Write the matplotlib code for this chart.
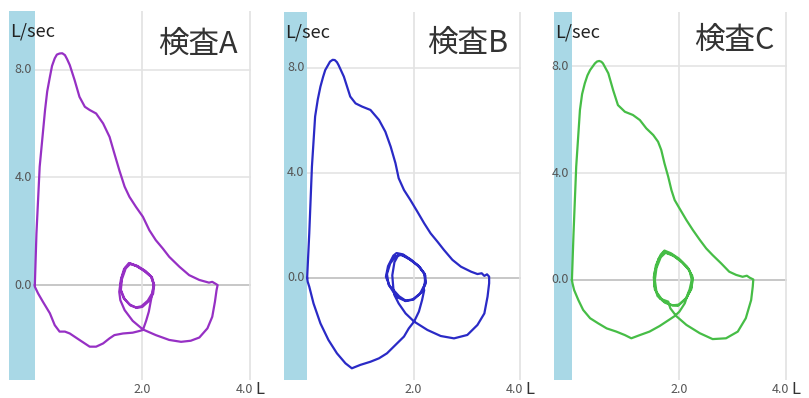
import numpy as np
from matplotlib import pyplot as plt

plt.rcParams['font.family'] = ['Noto Sans CJK JP', 'DejaVu Sans']

titles = ['検査A', '検査B', '検査C']
colors = ['#9630c4', '#2a2ac6', '#46bd46']
y_ticks = [0.0, 4.0, 8.0]

# 検査A : forced expiration, inspiration from RV, tidal loops, inspiration to TLC
a_exp_x = [0.00, 0.03, 0.09, 0.19, 0.23, 0.28, 0.32, 0.37, 0.41, 0.46, 0.51, 0.56, 0.60, 0.65,
           0.74, 0.83, 0.93, 1.02, 1.14, 1.27, 1.39, 1.48, 1.57, 1.67, 1.76, 1.88, 2.01, 2.13,
           2.25, 2.38, 2.50, 2.69, 2.87, 3.06, 3.15, 3.24, 3.30, 3.36, 3.40]
a_exp_y = [0.00, 1.92, 4.40, 6.51, 7.20, 7.74, 8.15, 8.43, 8.57, 8.61, 8.62, 8.55, 8.40, 8.18,
           7.62, 7.00, 6.63, 6.51, 6.38, 6.01, 5.51, 4.89, 4.28, 3.66, 3.28, 2.91, 2.54, 2.04,
           1.67, 1.36, 1.05, 0.68, 0.37, 0.19, 0.14, 0.09, 0.12, 0.05, 0.00]
a_rv_x = [3.40, 3.38, 3.35, 3.30, 3.21, 3.06, 2.90, 2.72, 2.50, 2.25, 2.01, 1.82, 1.67, 1.59, 1.57]
a_rv_y = [0.00, -0.19, -0.62, -1.18, -1.61, -1.95, -2.07, -2.11, -2.04, -1.86, -1.65, -1.33,
          -0.93, -0.56, -0.25]
a_loop_x = [1.60, 1.66, 1.75, 1.88, 2.03, 2.16, 2.21, 2.19, 2.10, 1.98, 1.88, 1.76, 1.65, 1.59,
            1.61, 1.68, 1.77, 1.90, 2.05, 2.18, 2.22, 2.20, 2.12, 2.00, 1.90, 1.78, 1.67, 1.60,
            1.62, 1.69, 1.78, 1.91, 2.06, 2.17, 2.21, 2.19]
a_loop_y = [0.20, 0.60, 0.82, 0.72, 0.55, 0.32, 0.05, -0.28, -0.58, -0.79, -0.83, -0.72, -0.48, -0.15,
            0.25, 0.64, 0.79, 0.70, 0.50, 0.28, 0.00, -0.32, -0.60, -0.81, -0.85, -0.76, -0.52, -0.18,
            0.22, 0.62, 0.80, 0.71, 0.52, 0.30, 0.02, -0.26]
a_insp_x = [2.16, 2.12, 2.07, 2.01, 1.94, 1.82, 1.64, 1.48, 1.39, 1.27, 1.14, 1.02, 0.83, 0.65,
            0.56, 0.46, 0.37, 0.28, 0.15, 0.06, 0.00, 0.00]
a_insp_y = [-0.56, -0.99, -1.33, -1.67, -1.71, -1.77, -1.80, -1.86, -1.98, -2.17, -2.29, -2.29,
            -2.04, -1.80, -1.73, -1.73, -1.49, -1.05, -0.62, -0.31, -0.06, 0.00]

# 検査B
b_exp_x = [0.00, 0.04, 0.09, 0.15, 0.20, 0.25, 0.30, 0.34, 0.43, 0.48, 0.52, 0.56, 0.59, 0.69,
           0.81, 0.91, 1.03, 1.19, 1.35, 1.47, 1.57, 1.66, 1.72, 1.82, 1.94, 2.07, 2.20, 2.32,
           2.45, 2.57, 2.73, 2.89, 3.08, 3.20, 3.28, 3.33, 3.38, 3.42]
b_exp_y = [0.00, 1.70, 4.24, 6.15, 6.80, 7.29, 7.66, 7.92, 8.24, 8.31, 8.30, 8.22, 8.11, 7.67,
           6.91, 6.65, 6.53, 6.40, 6.02, 5.57, 5.00, 4.37, 3.80, 3.35, 2.97, 2.53, 2.08, 1.70,
           1.38, 1.07, 0.69, 0.43, 0.24, 0.15, 0.18, 0.08, 0.14, 0.05]
b_rv_x = [3.42, 3.42, 3.39, 3.33, 3.20, 3.01, 2.76, 2.51, 2.26, 2.01, 1.85, 1.72, 1.64, 1.62]
b_rv_y = [0.05, -0.20, -0.71, -1.35, -1.79, -2.17, -2.30, -2.21, -1.98, -1.66, -1.35, -0.97,
          -0.65, -0.40]
b_loop_x = [1.60, 1.64, 1.72, 1.82, 1.97, 2.12, 2.22, 2.21, 2.12, 1.98, 1.85, 1.73,
            1.55, 1.48, 1.52, 1.62, 1.68, 1.80, 1.95, 2.10, 2.21, 2.23, 2.15, 2.00, 1.85, 1.68,
            1.53, 1.50, 1.56, 1.66, 1.77, 1.92, 2.08, 2.20, 2.22, 2.18]
b_loop_y = [0.10, 0.60, 0.90, 0.85, 0.65, 0.40, 0.10, -0.25, -0.60, -0.82, -0.86, -0.70,
            -0.30, 0.05, 0.45, 0.85, 0.95, 0.90, 0.70, 0.45, 0.15, -0.20, -0.55, -0.82, -0.88, -0.72,
            -0.25, 0.15, 0.55, 0.82, 0.88, 0.72, 0.48, 0.18, -0.15, -0.45]
b_insp_x = [2.20, 2.16, 2.10, 2.01, 1.91, 1.82, 1.66, 1.50, 1.35, 1.19, 1.00, 0.84, 0.72, 0.56,
            0.40, 0.25, 0.12, 0.04, 0.01, 0.00]
b_insp_y = [-0.46, -0.84, -1.28, -1.66, -1.92, -2.23, -2.55, -2.87, -3.06, -3.19, -3.31, -3.44,
            -3.25, -2.87, -2.36, -1.73, -0.97, -0.33, -0.14, 0.00]

# 検査C
c_exp_x = [0.00, 0.03, 0.08, 0.15, 0.19, 0.24, 0.29, 0.34, 0.43, 0.47, 0.51, 0.55, 0.58, 0.68,
           0.77, 0.86, 0.99, 1.14, 1.27, 1.39, 1.52, 1.61, 1.67, 1.73, 1.80, 1.86, 1.92, 2.01,
           2.14, 2.26, 2.39, 2.51, 2.63, 2.79, 2.94, 3.07, 3.19, 3.27, 3.32, 3.39]
c_exp_y = [0.00, 1.74, 4.24, 6.36, 6.95, 7.35, 7.65, 7.85, 8.10, 8.17, 8.19, 8.16, 8.10, 7.73,
           7.10, 6.54, 6.29, 6.17, 5.98, 5.67, 5.42, 5.17, 4.86, 4.36, 3.86, 3.36, 2.99, 2.68,
           2.24, 1.87, 1.50, 1.18, 0.93, 0.62, 0.31, 0.19, 0.12, 0.16, 0.09, 0.02]
c_rv_x = [3.39, 3.38, 3.35, 3.25, 3.10, 2.88, 2.63, 2.39, 2.14, 1.95, 1.84, 1.80]
c_rv_y = [0.02, -0.25, -0.75, -1.43, -1.93, -2.18, -2.21, -1.99, -1.68, -1.35, -1.06, -0.81]
c_loop_x = [1.65, 1.55, 1.53, 1.57, 1.66, 1.73, 1.85, 2.00, 2.15, 2.25, 2.24, 2.15, 2.00, 1.88, 1.74,
            1.60, 1.54, 1.55, 1.62, 1.72, 1.87, 2.03, 2.18, 2.26, 2.23, 2.12, 1.98, 1.85, 1.70,
            1.58, 1.55, 1.58, 1.66, 1.75, 1.90, 2.06, 2.20, 2.24, 2.20]
c_loop_y = [-0.70, -0.35, 0.10, 0.55, 0.95, 1.10, 1.00, 0.80, 0.50, 0.15, -0.25, -0.65, -0.92, -0.95, -0.85,
            -0.60, -0.20, 0.30, 0.80, 1.05, 0.95, 0.72, 0.42, 0.05, -0.35, -0.72, -0.97, -0.93, -0.78,
            -0.45, 0.00, 0.45, 0.85, 1.02, 0.90, 0.66, 0.35, 0.00, -0.35]
c_insp_x = [2.17, 2.11, 2.01, 1.92, 1.83, 1.64, 1.45, 1.27, 1.11, 0.99, 0.83, 0.65, 0.49, 0.34,
            0.21, 0.12, 0.04, 0.01, 0.00]
c_insp_y = [-0.50, -0.87, -1.18, -1.35, -1.47, -1.72, -1.93, -2.06, -2.18, -2.06, -1.93, -1.81,
            -1.62, -1.43, -1.12, -0.75, -0.37, -0.12, 0.00]

panels = [
    dict(x=[a_exp_x, a_rv_x, a_loop_x, a_insp_x], y=[a_exp_y, a_rv_y, a_loop_y, a_insp_y],
         rect=[0.0111, 0.0452, 0.2991, 0.9271], xlim=(-0.481, 4.02), ylim=(-3.53, 10.19)),
    dict(x=[b_exp_x, b_rv_x, b_loop_x, b_insp_x], y=[b_exp_y, b_rv_y, b_loop_y, b_insp_y],
         rect=[0.3511, 0.0452, 0.2930, 0.9246], xlim=(-0.434, 4.02), ylim=(-3.886, 10.13)),
    dict(x=[c_exp_x, c_rv_x, c_loop_x, c_insp_x], y=[c_exp_y, c_rv_y, c_loop_y, c_insp_y],
         rect=[0.6848, 0.0452, 0.2880, 0.9246], xlim=(-0.335, 4.02), ylim=(-3.74, 10.02)),
]

fig = plt.figure(figsize=(8.09, 3.98), dpi=100)

for p, title, color in zip(panels, titles, colors):
    ax = fig.add_axes(p['rect'])
    ax.set_xlim(*p['xlim'])
    ax.set_ylim(*p['ylim'])
    for s in ax.spines.values():
        s.set_visible(False)
    ax.set_xticks([])
    ax.set_yticks([])

    # grid
    for yv in y_ticks:
        ax.axhline(yv, color='#bdbdbd' if yv == 0 else '#e4e4e4', lw=1.2, zorder=1)
    for xv in [2.0, 4.0]:
        ax.axvline(xv, color='#e2e2e2', lw=1.2, zorder=1)
    ax.axvspan(p['xlim'][0], 0, color='#a9d8e6', lw=0, zorder=2)

    xs = np.concatenate(p['x'])
    ys = np.concatenate(p['y'])
    ax.plot(xs, ys, color=color, lw=1.6, zorder=3, solid_joinstyle='round')

    for yv in y_ticks:
        ax.annotate('{:.1f}'.format(yv), xy=(0, yv), xytext=(-2, 0), textcoords='offset points',
                    ha='right', va='center', fontsize=9, color='#555555', zorder=4)
    ax.annotate('2.0', xy=(2.0, 0), xycoords=('data', 'axes fraction'), xytext=(0, -7),
                textcoords='offset points', ha='center', va='center', fontsize=9, color='#555555')
    ax.annotate('4.0', xy=(4.0, 0), xycoords=('data', 'axes fraction'), xytext=(-4, -7),
                textcoords='offset points', ha='center', va='center', fontsize=9, color='#555555')
    ax.annotate('L', xy=(4.0, 0), xycoords=('data', 'axes fraction'), xytext=(4, -7),
                textcoords='offset points', ha='left', va='center', fontsize=12, color='#333333')
    ax.text(0.005, 0.945, 'L/sec', transform=ax.transAxes, ha='left', va='center',
            fontsize=13, color='#222222', zorder=5)
    ax.text(3.78, 8.95, title, ha='right', va='center', fontsize=22, color='#333333', zorder=5)

plt.savefig('out.png', dpi=100)
